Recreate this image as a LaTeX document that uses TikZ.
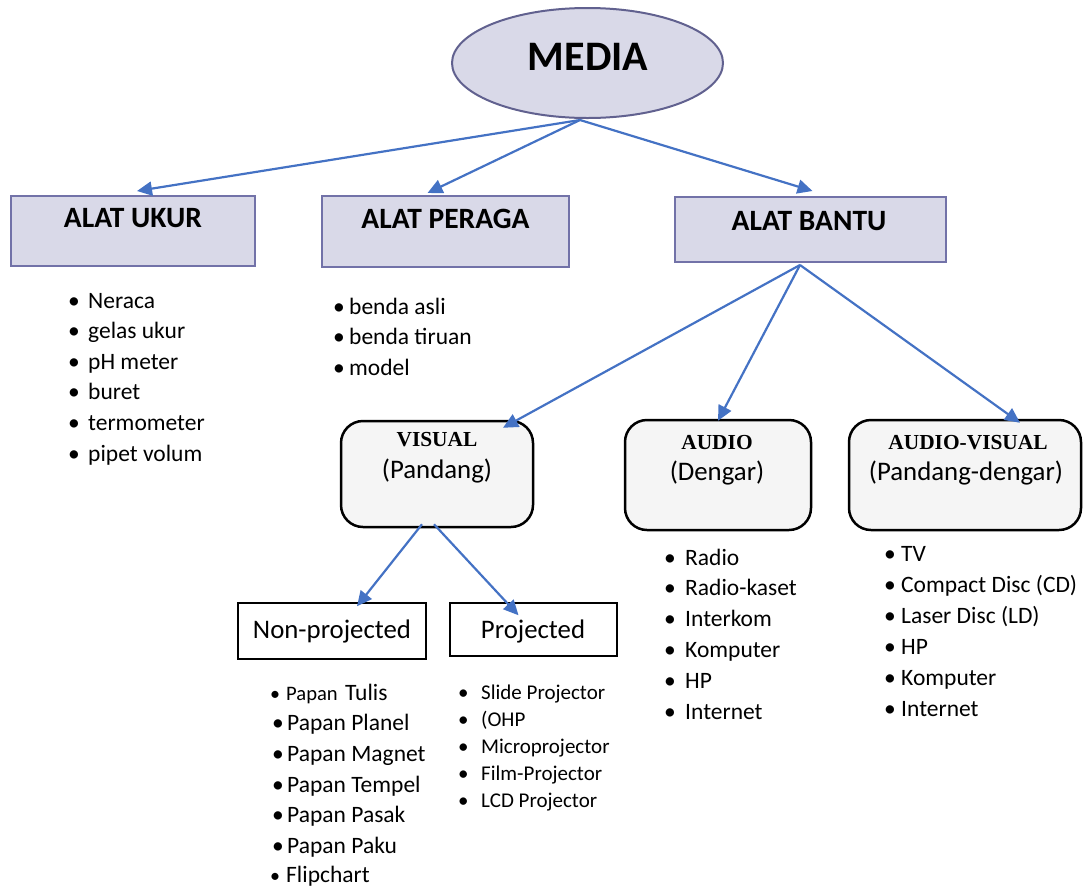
\documentclass[tikz,border=0pt]{standalone}
\usepackage{fontspec}
\setmainfont{Carlito}
\newfontfamily\tnr{Liberation Serif}
\usetikzlibrary{shapes.geometric,arrows.meta}
\definecolor{lav}{HTML}{D9D9E8}
\definecolor{lavedge}{HTML}{7272A8}
\definecolor{arr}{HTML}{4472C4}
\definecolor{rbfill}{HTML}{F5F5F5}
\tikzset{
  catbox/.style={draw=lavedge,fill=lav,line width=2pt,inner sep=0pt},
  rbox/.style={draw=black,fill=rbfill,line width=2.5pt,rounded corners=22pt,inner sep=0pt},
  pbox/.style={draw=black,fill=white,line width=1.5pt,inner sep=0pt},
  conn/.style={draw=arr,line width=2.2pt,-{Triangle[length=15pt,width=14pt]}},
  head/.style={font=\fontsize{29.5}{34}\selectfont\bfseries,inner sep=0pt,anchor=base},
  sub/.style={font=\fontsize{26.8}{30}\selectfont,inner sep=0pt,anchor=base},
  tnrhead/.style={font=\fontsize{21.4}{24}\selectfont\tnr\bfseries,inner sep=0pt,anchor=base},
  itm/.style={inner sep=0pt,anchor=base west},
}
\newcommand\itemlist[7]{%
  \foreach \t [count=\i from 0] in {#7} {
    \node[itm,font=\fontsize{#6}{#6}\selectfont] (#1b\i) at (#2,{#4+\i*#5}) {•};
    \node[itm,font=\fontsize{#6}{#6}\selectfont] (#1t\i) at (#3,{#4+\i*#5}) {\t};
  }}
\begin{document}
\begin{tikzpicture}[x=1pt,y=-1pt]
\useasboundingbox (0,0) rectangle (1083,887);
% top ellipse
\node[ellipse,draw=lavedge!85!black,fill=lav,line width=2pt,minimum width=271pt,minimum height=110pt,inner sep=0pt] (media) at (587.5,63) {};
\node[font=\fontsize{42}{48}\selectfont\bfseries,inner sep=0pt,anchor=base] (mediat) at (588,70) {MEDIA};
\coordinate (mb) at (580,120);
% category boxes
\node[catbox,minimum width=244pt,minimum height=70pt] (ukur) at (133,231) {};
\node[catbox,minimum width=247pt,minimum height=71pt] (peraga) at (445.5,231.5) {};
\node[catbox,minimum width=271pt,minimum height=65pt] (bantu) at (810.5,229.5) {};
\node[head] (ukurt) at (133,227) {ALAT UKUR};
\node[head] (peragat) at (445.5,228) {ALAT PERAGA};
\node[head] (bantut) at (809,230) {ALAT BANTU};
\draw[conn] (mb) -- ([xshift=4pt,yshift=4pt]ukur.north);
\draw[conn] (mb) -- ([xshift=-18pt,yshift=2pt]peraga.north);
\draw[conn] (mb) -- ([xshift=2pt,yshift=5pt]bantu.north);
% lists
\itemlist{uk}{68}{88}{308}{30.6}{23.5}{Neraca,gelas ukur,pH meter,buret,termometer,pipet volum}
\itemlist{pg}{333}{349}{314}{30.5}{23.5}{benda asli,benda tiruan,model}
% alat bantu children
\coordinate (bb) at (800,265);
\node[rbox,minimum width=192pt,minimum height=106pt] (visual) at (437,474) {};
\node[rbox,minimum width=186pt,minimum height=110pt] (audio) at (718,475) {};
\node[rbox,minimum width=232pt,minimum height=110pt] (av) at (965,475) {};
\draw[conn] (bb) -- ([xshift=66pt,yshift=-8pt]visual.north);
\draw[conn] (bb) -- ([yshift=-2pt]audio.north);
\draw[conn] (bb) -- ([xshift=55pt,yshift=-4pt]av.north);
\node[tnrhead] (visualt) at (437,446) {VISUAL};
\node[sub] (visuals) at (437,478) {(Pandang)};
\node[tnrhead] (audiot) at (717,449) {AUDIO};
\node[sub] (audios) at (717,480) {(Dengar)};
\node[tnrhead] (avt) at (968,449) {AUDIO-VISUAL};
\node[sub] (avs) at (966,480) {(Pandang-dengar)};
\itemlist{au}{664}{685}{565}{30.8}{23.5}{Radio,Radio-kaset,Interkom,Komputer,HP,Internet}
\itemlist{av}{884}{901}{561}{31}{23.5}{TV,Compact Disc (CD),Laser Disc (LD),HP,Komputer,Internet}
% visual children
\node[pbox,minimum width=188pt,minimum height=56pt] (nonp) at (332,631) {};
\node[pbox,minimum width=167pt,minimum height=53pt] (proj) at (533.5,629.5) {};
\node[sub] (nonpt) at (332,638) {Non-projected};
\node[sub] (projt) at (533,638) {Projected};
\draw[conn] ([xshift=-15pt,yshift=4pt]visual.south) -- ([xshift=25pt,yshift=-4pt]nonp.north);
\draw[conn] ([xshift=-3pt,yshift=4pt]visual.south) -- ([xshift=-15pt,yshift=-13pt]proj.north);
% non-projected list
\node[itm,font=\fontsize{20}{20}\selectfont] (npb0) at (270,700) {•};
\node[itm,font=\fontsize{20.6}{21}\selectfont] (npp0) at (286,700) {Papan};
\node[itm,font=\fontsize{23.5}{24}\selectfont] (npt0) at (345,700) {Tulis};
\itemlist{np}{272}{287}{730.7}{30.7}{23.5}{Papan Planel,Papan Magnet,Papan Tempel,Papan Pasak,Papan Paku}
\node[itm,font=\fontsize{20}{20}\selectfont] (npb6) at (270,882) {•};
\node[itm,font=\fontsize{23.5}{24}\selectfont] (npt6) at (286,882) {Flipchart};
% projected list
\itemlist{pr}{458}{481}{699}{27}{21}{Slide Projector,{(OHP},Microprojector,Film-Projector,LCD Projector}
\end{tikzpicture}
\end{document}
